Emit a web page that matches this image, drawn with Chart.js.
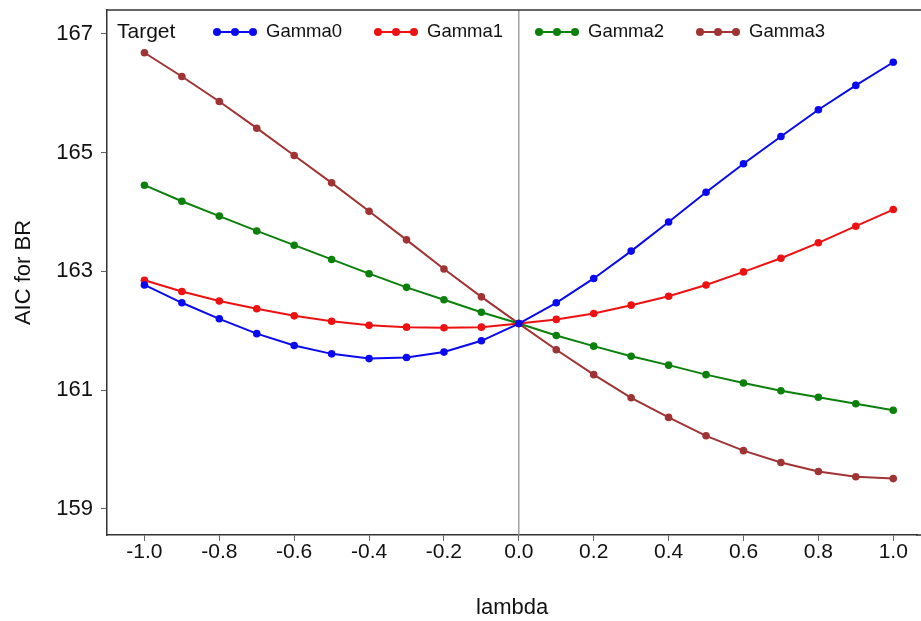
<!DOCTYPE html>
<html lang="en">
<head>
    <meta charset="UTF-8">
    <title>AIC for BR vs lambda</title>
    <script src="https://cdn.jsdelivr.net/npm/chart.js"></script>
    <style>
        body {
            margin: 0;
            background: #ffffff;
        }
        #aic-chart {
            display: block;
        }
    </style>
</head>
<body>
    <canvas id="aic-chart" width="921" height="621"></canvas>

    <script>
        // Values
        const lambdas = [-1.0, -0.9, -0.8, -0.7, -0.6, -0.5, -0.4, -0.3, -0.2, -0.1, 0.0,
                         0.1, 0.2, 0.3, 0.4, 0.5, 0.6, 0.7, 0.8, 0.9, 1.0];
        const gamma0 = [162.77, 162.47, 162.20, 161.95, 161.75, 161.61, 161.53, 161.55, 161.64, 161.83, 162.12,
                        162.47, 162.88, 163.34, 163.83, 164.33, 164.81, 165.27, 165.72, 166.13, 166.52];
        const gamma1 = [162.85, 162.66, 162.50, 162.37, 162.25, 162.16, 162.09, 162.06, 162.05, 162.06, 162.12,
                        162.19, 162.29, 162.43, 162.58, 162.77, 162.99, 163.22, 163.48, 163.76, 164.04];
        const gamma2 = [164.45, 164.18, 163.93, 163.68, 163.44, 163.20, 162.96, 162.73, 162.52, 162.31, 162.12,
                        161.92, 161.74, 161.57, 161.42, 161.26, 161.12, 160.99, 160.88, 160.77, 160.66];
        const gamma3 = [166.68, 166.28, 165.86, 165.41, 164.95, 164.49, 164.01, 163.53, 163.04, 162.57, 162.12,
                        161.68, 161.26, 160.87, 160.54, 160.23, 159.98, 159.78, 159.63, 159.54, 159.51];
        const seriesNames = ['Gamma0', 'Gamma1', 'Gamma2', 'Gamma3'];
        const xTicks = [-1.0, -0.8, -0.6, -0.4, -0.2, 0.0, 0.2, 0.4, 0.6, 0.8, 1.0];
        const yTicks = [159, 161, 163, 165, 167];

        const colors = ['#0a0af0', '#ee1111', '#0b800b', '#a03333'];
        const FONT = "'Liberation Sans', Arial, sans-serif";

        function makeDataset(name, values, color) {
            return {
                label: name,
                data: lambdas.map((x, i) => ({ x: x, y: values[i] })),
                borderColor: color,
                backgroundColor: color,
                borderWidth: 2,
                pointRadius: 3.8,
                pointHoverRadius: 3.8,
                pointBorderWidth: 0,
                tension: 0
            };
        }

        // frame lines, zero line and the inline legend
        const decorations = {
            id: 'decorations',
            beforeDatasetsDraw(chart) {
                const ctx = chart.ctx;
                const area = chart.chartArea;
                const x0 = chart.scales.x.getPixelForValue(0);
                ctx.save();
                ctx.strokeStyle = '#8a8a8a';
                ctx.lineWidth = 1.2;
                ctx.beginPath();
                ctx.moveTo(x0, area.top);
                ctx.lineTo(x0, area.bottom);
                ctx.stroke();
                ctx.restore();
            },
            afterDraw(chart) {
                const ctx = chart.ctx;
                const area = chart.chartArea;
                ctx.save();
                ctx.strokeStyle = '#333333';
                ctx.lineWidth = 1.5;
                ctx.beginPath();
                ctx.moveTo(area.left, area.top);
                ctx.lineTo(chart.width, area.top);
                // the plot runs off the right edge of the picture
                ctx.moveTo(area.right - 1, area.bottom);
                ctx.lineTo(chart.width, area.bottom);
                ctx.stroke();

                const cy = area.top + 22;
                ctx.fillStyle = '#111111';
                ctx.textBaseline = 'middle';
                ctx.font = '21px ' + FONT;
                ctx.fillText('Target', area.left + 10, cy);

                ctx.font = '18.5px ' + FONT;
                let x = 217;
                chart.data.datasets.forEach(ds => {
                    ctx.strokeStyle = ds.borderColor;
                    ctx.fillStyle = ds.borderColor;
                    ctx.lineWidth = 2;
                    ctx.beginPath();
                    ctx.moveTo(x, cy);
                    ctx.lineTo(x + 36, cy);
                    ctx.stroke();
                    [0, 18, 36].forEach(dx => {
                        ctx.beginPath();
                        ctx.arc(x + dx, cy, 4, 0, Math.PI * 2);
                        ctx.fill();
                    });
                    ctx.fillStyle = '#111111';
                    ctx.fillText(ds.label, x + 49, cy);
                    x += 161;
                });
                ctx.restore();
            }
        };

        const ctx = document.getElementById('aic-chart').getContext('2d');
        new Chart(ctx, {
            type: 'line',
            data: {
                datasets: [
                    makeDataset(seriesNames[0], gamma0, colors[0]),
                    makeDataset(seriesNames[1], gamma1, colors[1]),
                    makeDataset(seriesNames[2], gamma2, colors[2]),
                    makeDataset(seriesNames[3], gamma3, colors[3])
                ]
            },
            options: {
                responsive: false,
                animation: false,
                devicePixelRatio: 1,
                layout: {
                    padding: { top: 10, right: 0, left: 0, bottom: 0 }
                },
                plugins: {
                    legend: { display: false },
                    tooltip: { enabled: false }
                },
                scales: {
                    x: {
                        type: 'linear',
                        min: -1.1,
                        max: 1.064,
                        afterBuildTicks: scale => {
                            scale.ticks = xTicks.map(v => ({ value: v }));
                        },
                        afterFit: scale => {
                            scale.height = 86;
                            scale.paddingLeft = 0;
                            scale.paddingRight = 0;
                        },
                        ticks: {
                            color: '#111111',
                            padding: 1,
                            maxRotation: 0,
                            font: { family: FONT, size: 21, lineHeight: 1 },
                            callback: v => v.toFixed(1)
                        },
                        grid: {
                            drawOnChartArea: false,
                            drawTicks: true,
                            tickLength: 6,
                            color: '#666666'
                        },
                        border: { display: true, color: '#333333', width: 1.5 },
                        title: {
                            display: true,
                            text: 'lambda',
                            color: '#111111',
                            padding: { top: 0, bottom: 0 },
                            font: { family: FONT, size: 22 }
                        }
                    },
                    y: {
                        min: 158.56,
                        max: 167.40,
                        afterBuildTicks: scale => {
                            scale.ticks = yTicks.map(v => ({ value: v }));
                        },
                        afterFit: scale => {
                            scale.width = 107;
                            scale.paddingTop = 0;
                            scale.paddingBottom = 0;
                        },
                        ticks: {
                            color: '#111111',
                            padding: 8,
                            font: { family: FONT, size: 22 },
                            callback: v => String(v)
                        },
                        grid: {
                            drawOnChartArea: false,
                            drawTicks: true,
                            tickLength: 6,
                            color: '#666666'
                        },
                        border: { display: true, color: '#333333', width: 1.5 },
                        title: {
                            display: true,
                            text: 'AIC for BR',
                            color: '#111111',
                            padding: { top: 11, bottom: 0 },
                            font: { family: FONT, size: 22 }
                        }
                    }
                }
            },
            plugins: [decorations]
        });
    </script>
</body>
</html>
